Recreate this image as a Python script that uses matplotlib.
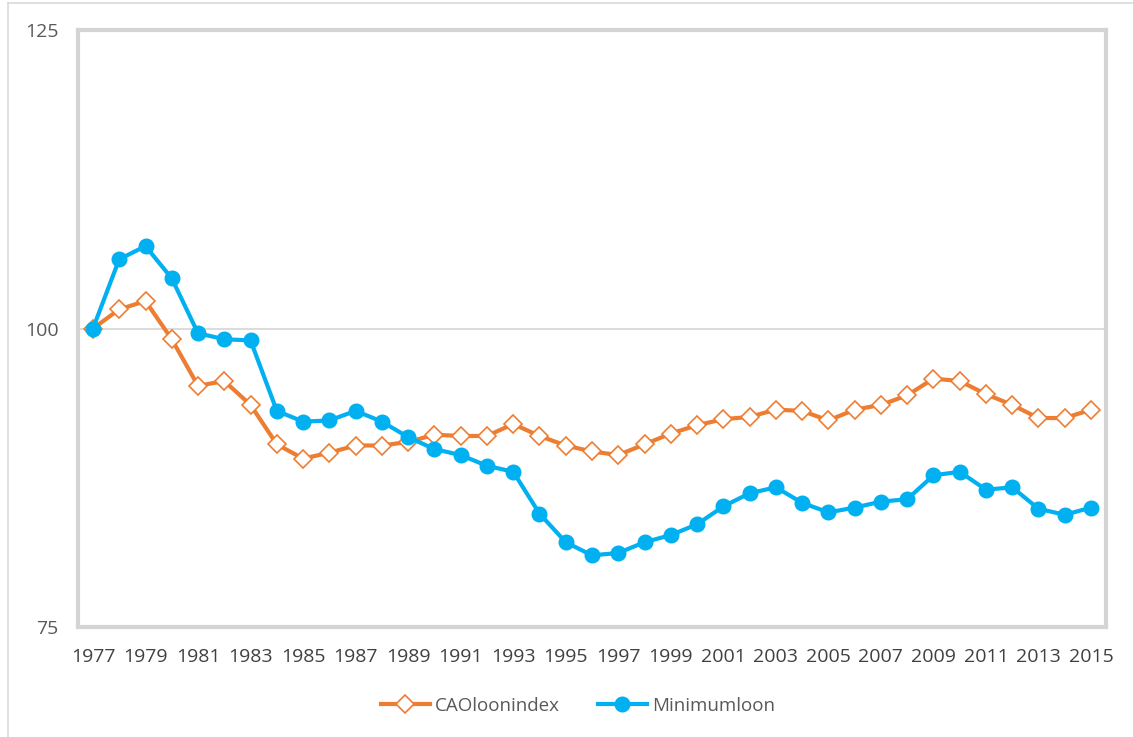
import matplotlib
matplotlib.use("Agg")
import matplotlib.pyplot as plt
from matplotlib.lines import Line2D

plt.rcParams['font.family'] = ['Open Sans', 'DejaVu Sans']

years = list(range(1977, 2016))
cao_index = [100.0, 101.6, 102.3, 99.1, 95.2, 95.6, 93.6, 90.3, 89.1, 89.6,
             90.2, 90.2, 90.5, 91.1, 91.0, 91.0, 92.0, 91.0, 90.2, 89.7,
             89.4, 90.3, 91.2, 91.9, 92.4, 92.6, 93.2, 93.1, 92.3, 93.2,
             93.6, 94.4, 95.8, 95.6, 94.5, 93.6, 92.5, 92.5, 93.2]
minimum_wage = [100.0, 105.8, 106.9, 104.2, 99.6, 99.1, 99.0, 93.1, 92.2, 92.3,
                93.1, 92.2, 90.9, 89.9, 89.4, 88.5, 88.0, 84.5, 82.1, 81.0,
                81.2, 82.1, 82.7, 83.6, 85.1, 86.2, 86.7, 85.4, 84.6, 85.0,
                85.5, 85.7, 87.7, 88.0, 86.5, 86.7, 84.9, 84.4, 85.0]
series_names = ['CAOloonindex', 'Minimumloon']
y_ticks = [75, 100, 125]
x_ticks = list(range(1977, 2016, 2))

orange = '#ED7D31'
blue = '#00B0F0'

fig = plt.figure(figsize=(11.33, 7.37), dpi=100)
ax = fig.add_axes([78 / 1133, 1 - 627 / 737, 1028 / 1133, 597 / 737])

# outer chart frame (only left/top visible in the crop)
fig.add_artist(Line2D([8 / 1133, 8 / 1133], [0, 1 - 3 / 737], color='#d9d9d9', lw=1.2))
fig.add_artist(Line2D([8 / 1133, 1], [1 - 3 / 737, 1 - 3 / 737], color='#d9d9d9', lw=1.2))

ax.axhline(100, color='#d9d9d9', lw=1.3, zorder=1)

ax.plot(years, cao_index, color=orange, lw=3, marker='D', markersize=9.5,
        markerfacecolor='white', markeredgecolor=orange, markeredgewidth=1.2,
        label=series_names[0], zorder=3)
ax.plot(years, minimum_wage, color=blue, lw=3, marker='o', markersize=10.5,
        markerfacecolor=blue, markeredgecolor=blue,
        label=series_names[1], zorder=4)

ax.set_xlim(1976.43, 2015.57)
ax.set_ylim(75, 125)
ax.set_xticks(x_ticks)
ax.set_yticks(y_ticks)
ax.tick_params(axis='x', length=0, pad=15, labelsize=14, labelcolor='#404040')
ax.tick_params(axis='y', length=0, pad=14, labelsize=14, labelcolor='#595959')

for s in ax.spines.values():
    s.set_color('#d4d4d4')
    s.set_linewidth(3)

fig.legend(loc='center', bbox_to_anchor=(578 / 1133, 1 - 706 / 737), ncol=2,
           frameon=False, fontsize=13.5, labelcolor='#595959',
           handlelength=2.6, columnspacing=2.0, handletextpad=0.3)

fig.savefig('out.png', dpi=100)
